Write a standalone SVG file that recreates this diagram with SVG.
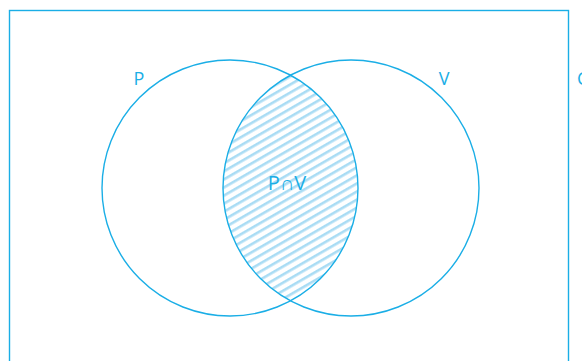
<svg xmlns="http://www.w3.org/2000/svg" width="582" height="361" viewBox="0 0 582 361">
<style>
.ln{fill:none;stroke:#1aaee6;stroke-width:1.4}
.t{font-family:"Open Sans","Liberation Sans",sans-serif;font-size:18px;fill:#1aaee6}
</style>
<defs>
<pattern id="h" patternUnits="userSpaceOnUse" width="7" height="7" patternTransform="rotate(-30)">
<rect width="7" height="7" fill="#fff"/>
<rect width="7" height="2.6" fill="#a9dcf4"/>
</pattern>
</defs>
<rect width="582" height="361" fill="#fff"/>
<g id="universe">
<rect class="ln" x="9.5" y="10.5" width="559" height="360"/>
<text class="t" x="577" y="85">C</text>
</g>
<g id="intersection">
<path d="M290.5 75.2 A128 128 0 0 1 290.5 300.8 A128 128 0 0 1 290.5 75.2 Z" fill="url(#h)"/>
<text class="t" x="287" y="190" text-anchor="middle" style="font-size:20px">P∩V</text>
</g>
<g id="P">
<circle class="ln" cx="230" cy="188" r="128"/>
<text class="t" x="139" y="85" text-anchor="middle">P</text>
</g>
<g id="V">
<circle class="ln" cx="351" cy="188" r="128"/>
<text class="t" x="444" y="85" text-anchor="middle">V</text>
</g>
</svg>
